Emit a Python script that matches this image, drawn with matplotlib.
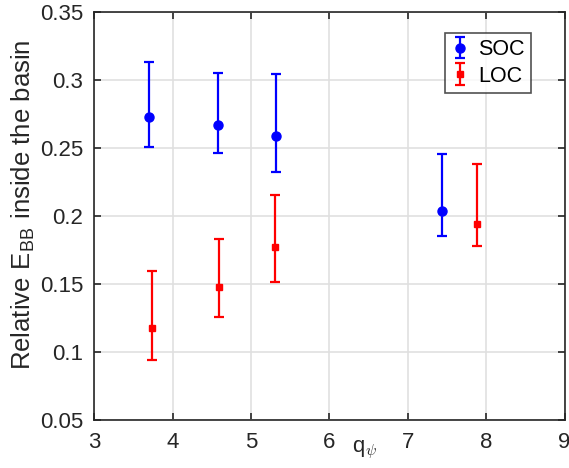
import matplotlib
matplotlib.use("Agg")
import matplotlib.pyplot as plt
import numpy as np

plt.rcParams['font.family'] = ['Liberation Sans', 'DejaVu Sans']
plt.rcParams['mathtext.fontset'] = 'cm'

soc_x = [3.70, 4.58, 5.32, 7.43]
soc_y = [0.2732, 0.2674, 0.2590, 0.2041]
soc_lo = [0.2507, 0.2468, 0.2324, 0.1857]
soc_hi = [0.3132, 0.3051, 0.3046, 0.2458]

loc_x = [3.74, 4.595, 5.30, 7.88]
loc_y = [0.1179, 0.1478, 0.1774, 0.1941]
loc_lo = [0.0938, 0.1257, 0.1517, 0.1782]
loc_hi = [0.1598, 0.1835, 0.2157, 0.2382]

xticks = [3, 4, 5, 6, 7, 8, 9]
yticks = [0.05, 0.1, 0.15, 0.2, 0.25, 0.3, 0.35]
ytick_labels = ['0.05', '0.1', '0.15', '0.2', '0.25', '0.3', '0.35']

W, H = 569, 468
fig = plt.figure(figsize=(W/100, H/100), dpi=100)
ax = fig.add_axes([94.3/W, 1 - 420/H, (564.6-94.3)/W, (420-12.3)/H])

def err(y, lo, hi):
    y = np.array(y); return [y - np.array(lo), np.array(hi) - y]

ax.errorbar(soc_x, soc_y, yerr=err(soc_y, soc_lo, soc_hi), fmt='o', color='#0000ff',
            ms=6.5, elinewidth=1.6, capsize=3.5, capthick=1.6, label='SOC')
ax.errorbar(loc_x, loc_y, yerr=err(loc_y, loc_lo, loc_hi), fmt='s', color='#ff0000',
            ms=5, elinewidth=1.6, capsize=3.5, capthick=1.6, label='LOC')

ax.set_xlim(3, 9)
ax.set_ylim(0.05, 0.35)
ax.set_xticks(xticks)
ax.set_yticks(yticks)
ax.set_yticklabels(ytick_labels)
ax.grid(True, color='#e0e0e0', linewidth=1.2)
ax.set_axisbelow(True)
ax.tick_params(direction='in', top=True, right=True, labelsize=16, color='#262626',
               labelcolor='#262626', length=5, width=1.2)
ax.tick_params(axis='y', pad=8)
ax.tick_params(axis='x', pad=9)
for s in ax.spines.values():
    s.set_color('#262626'); s.set_linewidth(1.2)

ax.set_ylabel(r'Relative E$_{\mathregular{BB}}$ inside the basin', fontsize=18.5, color='#262626')
ax.yaxis.set_label_coords(-0.122, 0.527)
fig.text(352/W, 1 - 452/H, r'q$_{\psi}$', fontsize=16, color='#262626', ha='left', va='baseline')

leg = ax.legend(loc='upper right', bbox_to_anchor=((531-94.3)/(564.6-94.3), (420-32.7)/(420-12.3)),
                fontsize=15.5, frameon=True, fancybox=False, edgecolor='#262626',
                handlelength=0.8, handletextpad=0.45, borderpad=0.3, borderaxespad=0,
                labelspacing=0.25)
leg.get_frame().set_linewidth(1.2)

fig.savefig('out.png', dpi=100)
